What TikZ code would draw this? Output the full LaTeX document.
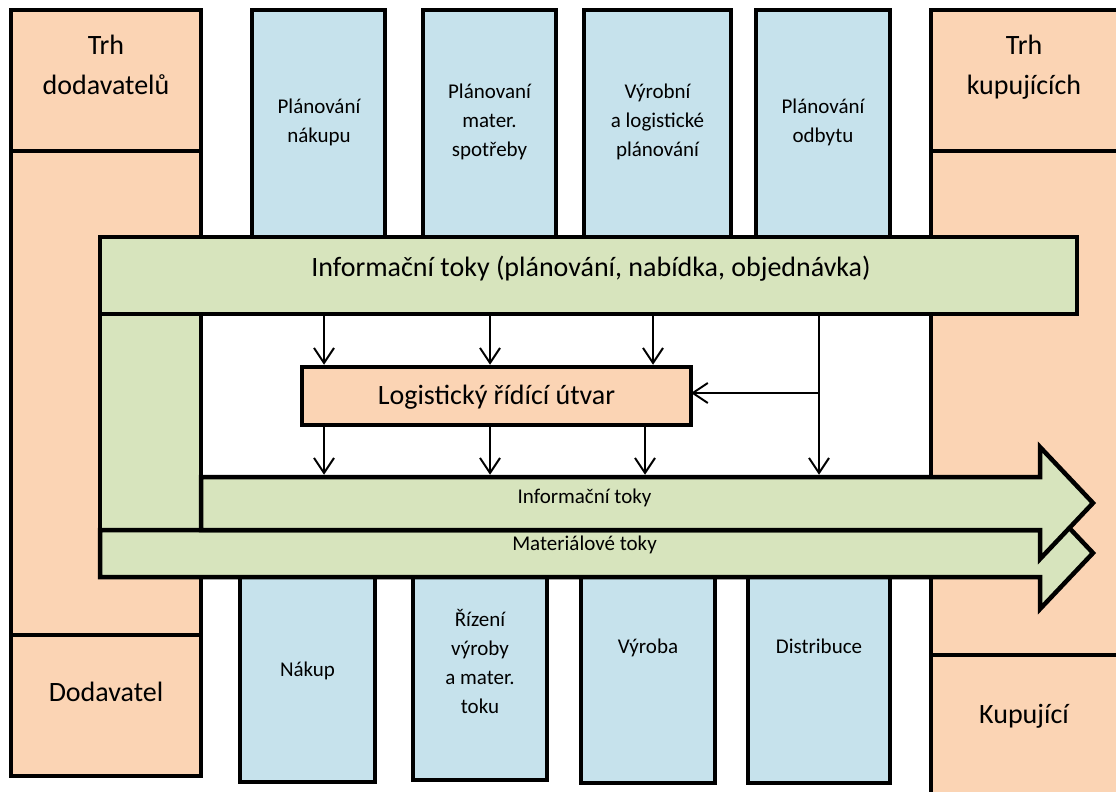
\documentclass[tikz,border=0pt]{standalone}
\usepackage{fontspec}
\setmainfont{Carlito}
\usetikzlibrary{arrows.meta}
\definecolor{peach}{HTML}{FBD4B4}
\definecolor{pale}{HTML}{C6E2EC}
\definecolor{olive}{HTML}{D7E4BD}
\begin{document}
\begin{tikzpicture}[x=1pt,y=-1pt,
  boxframe/.style={draw=black, line width=4.5pt, inner sep=0pt, outer sep=0pt, rectangle},
  market/.style={boxframe, fill=peach},
  dept/.style={boxframe, fill=pale},
  flowbox/.style={boxframe, fill=olive},
  bigtext/.style={font=\fontsize{28}{40}\selectfont, inner sep=0pt, align=center},
  smalltext/.style={font=\fontsize{21}{29}\selectfont, inner sep=0pt, align=center},
  link/.style={line width=2pt, -{Straight Barb[length=15pt,width=20pt]}},
  flowarrow/.style={draw=black, line width=4.5pt, fill=olive, line join=miter}]
\useasboundingbox (0,0) rectangle (1116,792);

% suppliers' side
\node[market, minimum width=190pt, minimum height=141pt] (tdod) at (106,80.5) {};
\node[market, minimum width=190pt, minimum height=484pt] (lmid) at (106,393) {};
\node[market, minimum width=190pt, minimum height=141pt] (dod) at (106,705.5) {};
\node[bigtext] (tdodt) at (106,67) {\strut Trh\\\strut dodavatelů};
\node[bigtext] (dodt) at (106,693) {\strut Dodavatel};

% customers' side
\node[market, minimum width=190pt, minimum height=141pt] (tkup) at (1026,80.5) {};
\node[market, minimum width=190pt, minimum height=504pt] (rmid) at (1026,403) {};
\node[market, minimum width=190pt, minimum height=145pt] (kup) at (1026,727.5) {};
\node[bigtext] (tkupt) at (1024,67) {\strut Trh\\\strut kupujících};
\node[bigtext] (kupt) at (1024,715) {\strut Kupující};

% planning departments
\node[dept, minimum width=133pt, minimum height=240pt] (p1) at (318.5,130) {};
\node[dept, minimum width=133pt, minimum height=240pt] (p2) at (489.5,130) {};
\node[dept, minimum width=147pt, minimum height=240pt] (p3) at (657.5,130) {};
\node[dept, minimum width=134pt, minimum height=240pt] (p4) at (823,130) {};
\node[smalltext] (p1t) at (319,121.7) {\strut Plánování\\\strut nákupu};
\node[smalltext] (p2t) at (489.5,121.7) {\strut Plánovaní\\\strut mater.\\\strut spotřeby};
\node[smalltext] (p3t) at (657.5,121.7) {\strut Výrobní\\\strut a logistické\\\strut plánování};
\node[smalltext] (p4t) at (823,121.7) {\strut Plánování\\\strut odbytu};

% operative departments
\node[dept, minimum width=135pt, minimum height=217pt] (o1) at (307.5,673.5) {};
\node[dept, minimum width=134pt, minimum height=215pt] (o2) at (480,672.5) {};
\node[dept, minimum width=134pt, minimum height=218pt] (o3) at (648,674) {};
\node[dept, minimum width=142pt, minimum height=218pt] (o4) at (819,674) {};
\node[smalltext] (o1t) at (307.5,671) {\strut Nákup};
\node[smalltext] (o2t) at (480,663.7) {\strut Řízení\\\strut výroby\\\strut a mater.\\\strut toku};
\node[smalltext] (o3t) at (648,648) {\strut Výroba};
\node[smalltext] (o4t) at (819,648) {\strut Distribuce};

% information flow bar with its left leg
\node[flowbox, minimum width=977pt, minimum height=77pt] (bar) at (588.5,275.5) {};
\node[bigtext] (bart) at (591,268) {\strut Informační toky (plánování, nabídka, objednávka)};
\node[flowbox, minimum width=101pt, minimum height=216pt] (leg) at (150.5,422) {};

% broad flow arrows
\draw[flowarrow] (100,530) -- (1040,530) -- (1040,497) -- (1093,553) -- (1040,609)
  -- (1040,577) -- (100,577) -- cycle;
\draw[flowarrow] (201,477) -- (1040,477) -- (1040,447) -- (1093,503) -- (1040,559)
  -- (1040,530) -- (201,530) -- cycle;
\node[smalltext] (infot) at (584.5,497.2) {\strut Informační toky};
\node[smalltext] (matt) at (584.5,544.2) {\strut Materiálové toky};

% logistics control unit
\node[market, minimum width=389pt, minimum height=58pt, font=\fontsize{28}{40}\selectfont] (lg) at (496.5,396) {\strut Logistický řídící útvar};

% thin connectors
\coordinate (x1) at (324,0);
\coordinate (x2) at (490,0);
\coordinate (x3) at (653,0);
\coordinate (x3b) at (645,0);
\coordinate (x4) at (819,0);
\coordinate (itop) at (0,474.75);
\coordinate (br) at (819,393);
\draw[link, shorten >=2.25pt] (x1 |- bar.south) -- (x1 |- lg.north);
\draw[link, shorten >=2.25pt] (x2 |- bar.south) -- (x2 |- lg.north);
\draw[link, shorten >=2.25pt] (x3 |- bar.south) -- (x3 |- lg.north);
\draw[link] (x1 |- lg.south) -- (x1 |- itop);
\draw[link] (x2 |- lg.south) -- (x2 |- itop);
\draw[link] (x3b |- lg.south) -- (x3b |- itop);
\draw[link] (x4 |- bar.south) -- (x4 |- itop);
\draw[link] (br) -- (lg.east |- br);
\end{tikzpicture}
\end{document}
